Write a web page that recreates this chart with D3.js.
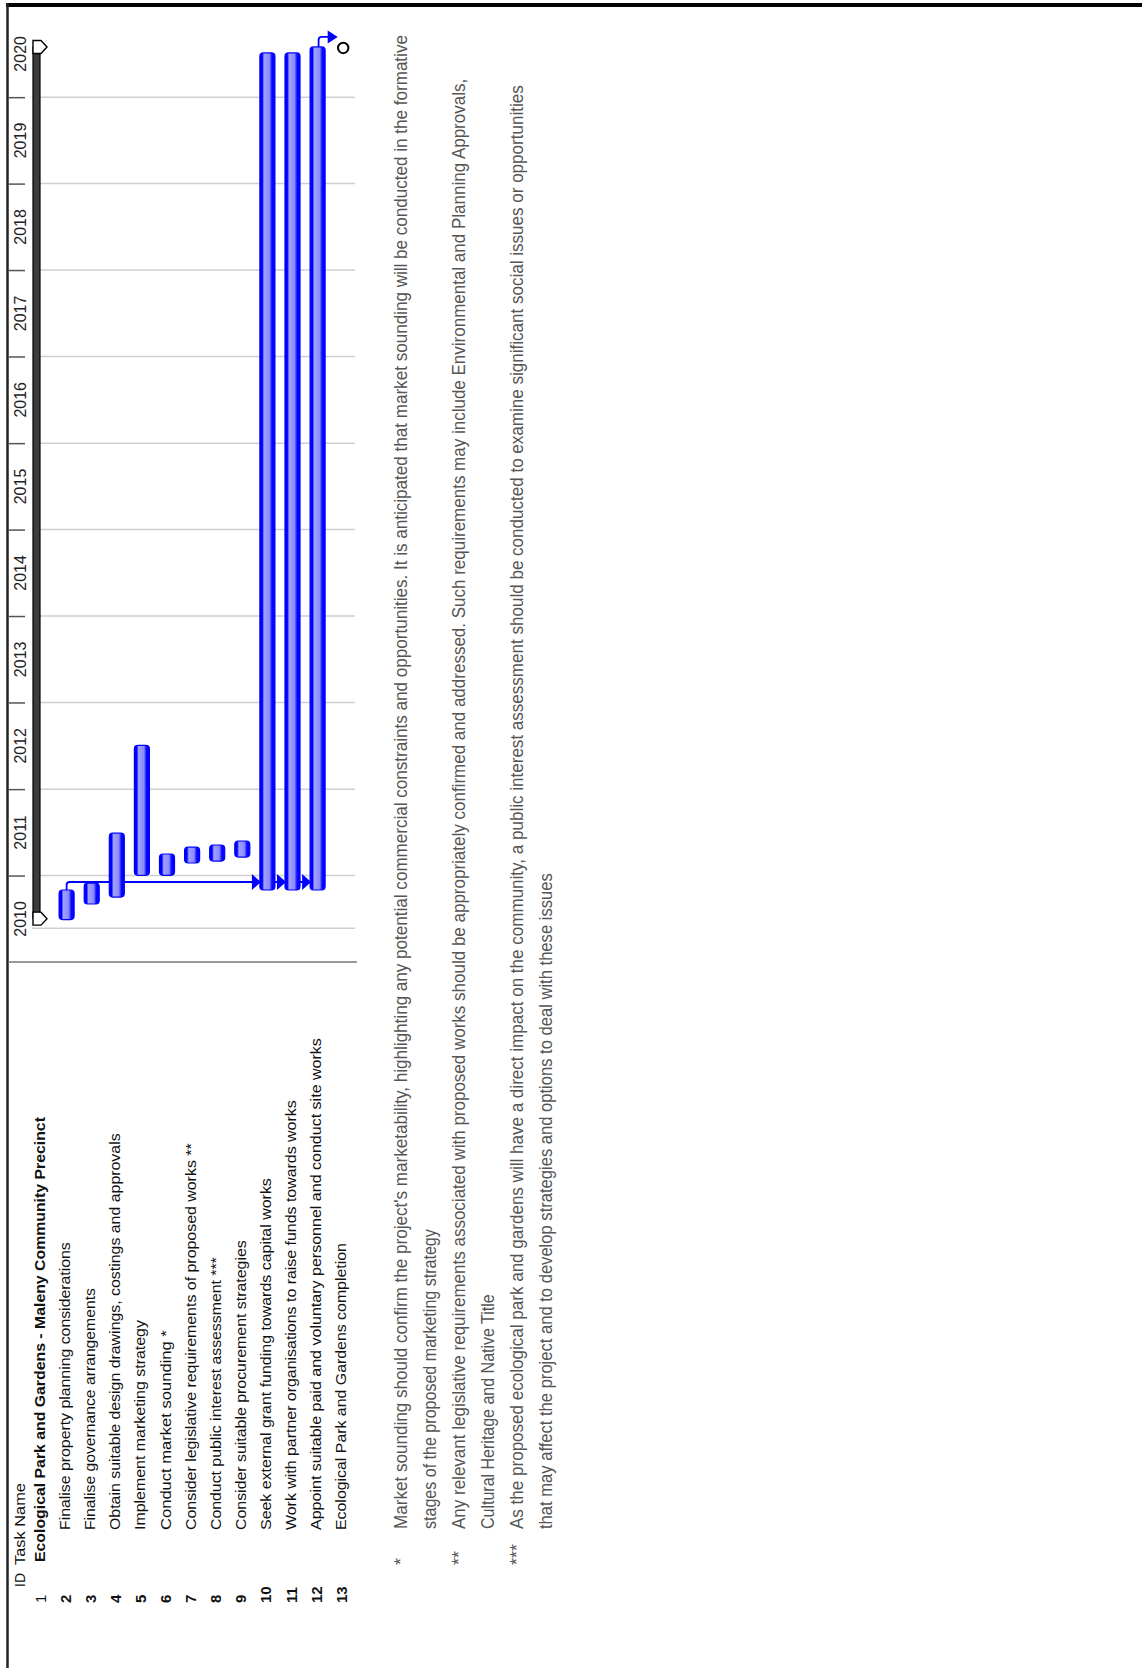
<!DOCTYPE html>
<html>
<head>
<meta charset="utf-8">
<script src="https://cdn.jsdelivr.net/npm/d3@7"></script>
<style>
  html, body { margin: 0; padding: 0; background: #fff; }
  svg { display: block; }
  text { font-family: "Liberation Sans", Arial, sans-serif; }
</style>
</head>
<body>
<svg id="chart" width="1142" height="1668"></svg>
<script>
// ---- Schedule data ----------------------------------------------------
const years = [2010, 2011, 2012, 2013, 2014, 2015, 2016, 2017, 2018, 2019, 2020];
const taskIds = [1, 2, 3, 4, 5, 6, 7, 8, 9, 10, 11, 12, 13];
const taskNames = [
  "Ecological Park and Gardens - Maleny Community Precinct",
  "Finalise property planning considerations",
  "Finalise governance arrangements",
  "Obtain suitable design drawings, costings and approvals",
  "Implement marketing strategy",
  "Conduct market sounding *",
  "Consider legislative requirements of proposed works **",
  "Conduct public interest assessment ***",
  "Consider suitable procurement strategies",
  "Seek external grant funding towards capital works",
  "Work with partner organisations to raise funds towards works",
  "Appoint suitable paid and voluntary personnel and conduct site works",
  "Ecological Park and Gardens completion"
];
const taskTypes = ["summary", "task", "task", "task", "task", "task", "task",
                   "task", "task", "task", "task", "task", "milestone"];
const taskStarts = [
  "2010-07-03", "2010-06-29", "2010-09-03", "2010-10-02", "2011-01-02",
  "2011-01-02", "2011-02-23", "2011-03-03", "2011-03-20", "2010-11-01",
  "2010-11-01", "2010-11-01", "2020-07-31"
];
const taskFinishes = [
  "2020-07-31", "2010-11-01", "2010-11-30", "2011-06-29", "2012-07-04",
  "2011-04-02", "2011-05-01", "2011-05-10", "2011-05-27", "2020-07-06",
  "2020-07-06", "2020-07-31", "2020-07-31"
];
// finish-to-start links [predecessor, successor]
const links = [[2, 10], [2, 11], [2, 12], [12, 13]];
const projectStart = "2010-05-24";

const footnoteMarks = ["*", "**", "***"];
const footnoteLines = [
  ["Market sounding should confirm the project's marketability, highlighting any potential commercial constraints and opportunities. It is anticipated that market sounding will be conducted in the formative",
   "stages of the proposed marketing strategy"],
  ["Any relevant legislative requirements associated with proposed works should be appropriately confirmed and addressed. Such requirements may include Environmental and Planning Approvals,",
   "Cultural Heritage and Native Title"],
  ["As the proposed ecological park and gardens will have a direct impact on the community, a public interest assessment should be conducted to examine significant social issues or opportunities",
   "that may affect the project and to develop strategies and options to deal with these issues"]
];

// ---- Layout (page is printed sideways: time runs upward) --------------
const nameWidths = [445, 288, 242, 397, 210, 200, 387, 273, 290, 352, 430, 492, 287];
const footWidths = [[1495, 300], [1451, 235], [1445, 656]];

const svg = d3.select("#chart");
const parse = d3.timeParse("%Y-%m-%d");

const y = d3.scaleTime()
  .domain([new Date(2010, 0, 1), new Date(2021, 0, 1)])
  .range([962, 10.5]);
const x = d3.scalePoint().domain(taskIds).range([41.5, 342.7]);

// rotate a text to read bottom-to-top and squeeze it to a given run length
function sideways(sel, px, py, width) {
  sel.each(function (d, i) {
    const node = this;
    const w = typeof width === "function" ? width(d, i) : width;
    const X = typeof px === "function" ? px(d, i) : px;
    const Y = typeof py === "function" ? py(d, i) : py;
    let t = `translate(${X},${Y}) rotate(-90)`;
    if (w) {
      const natural = node.getComputedTextLength();
      t += ` scale(${w / natural},1)`;
    }
    d3.select(node).attr("transform", t);
  });
}

const defs = svg.append("defs");
const grad = defs.append("linearGradient").attr("id", "barFill")
  .attr("x1", 0).attr("x2", 1).attr("y1", 0).attr("y2", 0);
[[0, "#0000ff"], [0.16, "#0000ff"], [0.28, "#a2a2ff"], [0.64, "#8a8aff"],
 [0.8, "#0a0aff"], [1, "#0000ff"]].forEach(([o, c]) =>
  grad.append("stop").attr("offset", o).attr("stop-color", c));

// page frame
svg.append("rect").attr("x", 6).attr("y", 3).attr("width", 1136).attr("height", 4).attr("fill", "#000");
svg.append("line").attr("x1", 7.5).attr("x2", 7.5).attr("y1", 3).attr("y2", 1668)
  .attr("stroke", "#222").attr("stroke-width", 2.5);

// timescale header: ticks on year boundaries
const boundaries = years.slice(1).map(yr => new Date(yr, 0, 1));
const axis = d3.axisRight(y).tickValues(boundaries).tickSize(17).tickFormat("");
const axG = svg.append("g").attr("transform", "translate(8,0)").call(axis);
axG.select(".domain").remove();
axG.selectAll(".tick line").attr("stroke", "#555").attr("stroke-width", 1.5);

svg.append("g").selectAll("text").data(years).join("text")
  .attr("transform", d => `translate(26,${y(new Date(d, 6, 2))}) rotate(-90)`)
  .attr("text-anchor", "middle")
  .attr("font-size", 16)
  .attr("fill", "#222")
  .text(d => d);

// gridlines
svg.append("g").selectAll("line").data(boundaries).join("line")
  .attr("x1", 32).attr("x2", 355)
  .attr("y1", d => y(d)).attr("y2", d => y(d))
  .attr("stroke", "#cfcfcf").attr("stroke-width", 1.5);
svg.append("line").attr("x1", 32).attr("x2", 355)
  .attr("y1", y(parse(projectStart))).attr("y2", y(parse(projectStart)))
  .attr("stroke", "#cfcfcf").attr("stroke-width", 1.5);
svg.append("line").attr("x1", 8).attr("x2", 357)
  .attr("y1", y(new Date(2010, 0, 1))).attr("y2", y(new Date(2010, 0, 1)))
  .attr("stroke", "#777").attr("stroke-width", 1.5);

const tasks = taskIds.map((id, i) => ({
  id, name: taskNames[i], type: taskTypes[i],
  start: parse(taskStarts[i]), finish: parse(taskFinishes[i])
}));
const byId = new Map(tasks.map(t => [t.id, t]));

const arrow = (tipX, tipY, w, h) =>
  `M${tipX - w},${tipY - h / 2}L${tipX},${tipY}L${tipX - w},${tipY + h / 2}Z`;

// links from task 2 into the long-running works (drawn under bars)
const barLinks = links.filter(l => byId.get(l[1]).type === "task");
const msLinks = links.filter(l => byId.get(l[1]).type === "milestone");
if (barLinks.length) {
  const p = byId.get(barLinks[0][0]);
  const ly = y(p.finish) - 8;
  const lastX = d3.max(barLinks, l => x(l[1]) - 7.5);
  svg.append("path")
    .attr("d", `M${x(p.id)},${y(p.finish)}V${ly + 3}Q${x(p.id)},${ly} ${x(p.id) + 3},${ly}H${lastX}`)
    .attr("fill", "none").attr("stroke", "#0000ff").attr("stroke-width", 1.8);
}

// task bars
const barTasks = tasks.filter(t => t.type === "task");
svg.append("g").selectAll("rect").data(barTasks).join("rect")
  .attr("x", d => x(d.id) - 7.5)
  .attr("width", 15)
  .attr("y", d => y(d.finish))
  .attr("height", d => y(d.start) - y(d.finish))
  .attr("rx", 3.5)
  .attr("fill", "url(#barFill)")
  .attr("stroke", "#0000ff").attr("stroke-width", 1.2);

// arrowheads into successor bars
barLinks.forEach(l => {
  const p = byId.get(l[0]);
  svg.append("path")
    .attr("d", arrow(x(l[1]) - 6.5, y(p.finish) - 8, 9, 16))
    .attr("fill", "#0000ff");
});

// summary bar
tasks.filter(t => t.type === "summary").forEach(t => {
  const cx = x(t.id);
  const g = svg.append("g");
  g.append("rect")
    .attr("x", cx - 8.5).attr("width", 7)
    .attr("y", y(t.finish)).attr("height", y(t.start) - y(t.finish))
    .attr("fill", "#3c3c3c").attr("stroke", "#000").attr("stroke-width", 1.2);
  [t.start, t.finish].forEach(d => {
    const yy = y(d);
    g.append("path")
      .attr("d", `M${cx - 8.5},${yy - 6.5}H${cx - 0.5}L${cx + 5.5},${yy}L${cx - 0.5},${yy + 6.5}H${cx - 8.5}Z`)
      .attr("fill", "#fff").attr("stroke", "#000").attr("stroke-width", 1.4);
  });
});

// milestone and its incoming link
tasks.filter(t => t.type === "milestone").forEach(t => {
  const mx = x(t.id), my = y(t.finish);
  msLinks.filter(l => l[1] === t.id).forEach(l => {
    const p = byId.get(l[0]);
    const ly = y(p.finish) - 10;
    const px = x(p.id) + 1;
    svg.append("path")
      .attr("d", `M${px},${y(p.finish)}V${ly + 3}Q${px},${ly} ${px + 3},${ly}H${mx - 14}`)
      .attr("fill", "none").attr("stroke", "#0000ff").attr("stroke-width", 1.8);
    svg.append("path").attr("d", arrow(mx - 5, ly, 10, 13)).attr("fill", "#0000ff");
  });
  svg.append("circle").attr("cx", mx + 0.5).attr("cy", my + 1).attr("r", 5.2)
    .attr("fill", "#fff").attr("stroke", "#000").attr("stroke-width", 2);
});

// task table (rotated)
const table = svg.append("g").attr("fill", "#111");
table.append("text").attr("font-size", 14).text("ID")
  .call(sideways, 24.5, 1587, null);
table.append("text").attr("font-size", 14).text("Task Name")
  .call(sideways, 24.5, 1565, 82);
table.selectAll(".tid").data(tasks).join("text").attr("class", "tid")
  .attr("font-size", 15)
  .attr("font-weight", d => d.id === 1 ? "normal" : "bold")
  .text(d => d.id)
  .call(sideways, d => x(d.id) + 4, 1603, null);
table.selectAll(".tname").data(tasks).join("text").attr("class", "tname")
  .attr("font-size", 14)
  .attr("font-weight", d => d.type === "summary" ? "bold" : "normal")
  .text(d => d.name)
  .call(sideways, d => x(d.id) + 3.5, d => d.type === "summary" ? 1562 : 1530,
        (d, i) => nameWidths[i]);

// footnotes
const notes = svg.append("g").attr("fill", "#555").attr("font-size", 18);
const baseX = 407, lineGap = 29;
footnoteLines.forEach((lines, i) => {
  const bx = baseX + i * 2 * lineGap;
  notes.append("text").text(footnoteMarks[i])
    .call(sideways, bx, 1565, null);
  lines.forEach((ln, j) => {
    notes.append("text").text(ln)
      .call(sideways, bx + j * lineGap, 1529, footWidths[i][j]);
  });
});
</script>
</body>
</html>
